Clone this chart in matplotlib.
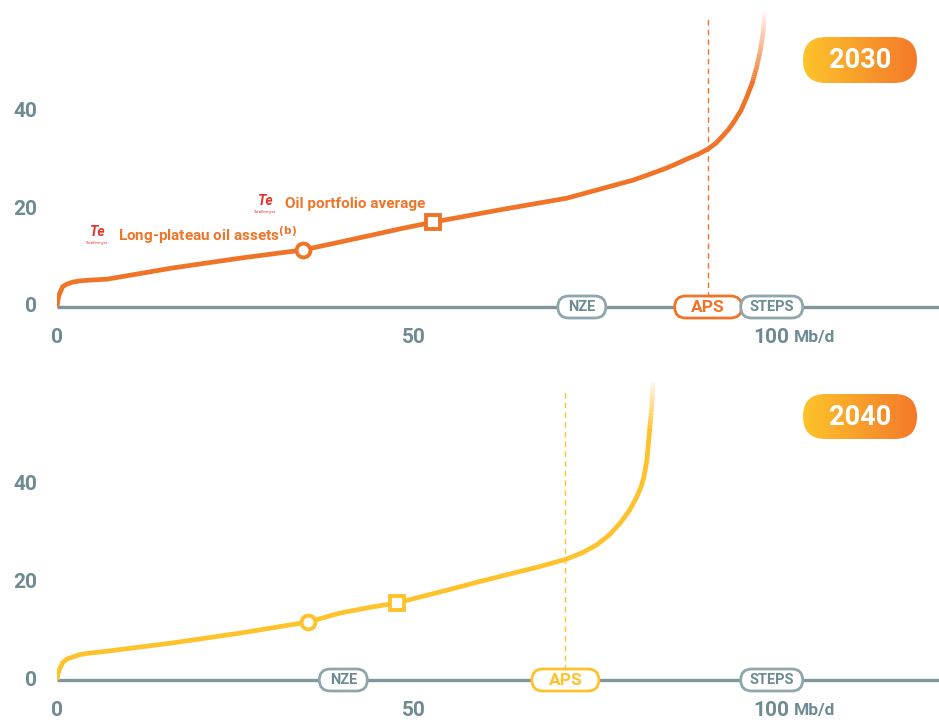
import numpy as np
import matplotlib
matplotlib.use("Agg")
import matplotlib.pyplot as plt
from matplotlib.collections import LineCollection
from matplotlib.patches import FancyBboxPatch
from matplotlib.colors import to_rgba, LinearSegmentedColormap

plt.rcParams['font.family'] = ['Roboto', 'DejaVu Sans']

# ---- data ----
years = ["2030", "2040"]

x_2030 = [0, 0.1, 0.3, 0.8, 1.4, 2.2, 3.2, 4.5, 7.0, 16.2, 25.6, 34.5, 39.6, 44.0, 48.0,
          52.7, 62.0, 71.4, 80.7, 83.0, 85.4, 87.0, 88.5, 89.8, 91.2, 92.3, 93.2, 94.0,
          94.7, 95.8, 96.6, 97.4, 98.0, 98.5, 98.9, 99.1]
y_2030 = [0, 1.2, 2.5, 4.2, 4.7, 5.1, 5.35, 5.5, 5.7, 8.0, 10.0, 11.7, 13.3, 14.7, 16.0,
          17.4, 19.9, 22.3, 26.0, 27.2, 28.5, 29.5, 30.5, 31.3, 32.4, 33.6, 35.0, 36.3,
          37.7, 40.3, 43.0, 46.0, 49.2, 52.5, 56.1, 60.5]

x_2040 = [0, 0.1, 0.3, 0.8, 1.4, 2.2, 3.2, 4.5, 7.0, 16.2, 25.6, 35.2, 39.6, 43.5, 47.6,
          54.6, 59.0, 63.9, 67.5, 71.4, 73.6, 75.6, 77.4, 78.9, 80.2, 81.2, 81.8, 82.2,
          82.6, 83.0, 83.3, 83.5]
y_2040 = [0, 1.0, 2.0, 3.6, 4.3, 4.7, 5.2, 5.5, 5.9, 7.6, 9.6, 11.9, 13.7, 14.8, 15.8,
          18.4, 20.1, 21.9, 23.2, 24.8, 26.1, 27.7, 29.8, 32.2, 34.8, 37.5, 39.6, 41.6,
          44.8, 51.2, 56.0, 61.5]

# long-plateau assets (circle) and portfolio average (square)
plateau_pt = {"2030": (34.5, 11.7), "2040": (35.2, 11.9)}
average_pt = {"2030": (52.7, 17.4), "2040": (47.6, 15.8)}

scenarios = ["NZE", "APS", "STEPS"]
scenario_x = {"2030": [73.5, 91.2, 100.1], "2040": [40.1, 71.2, 100.1]}

yticks = [0, 20, 40]
xticks = [0, 50, 100]

# ---- style ----
ORANGE = "#F07427"
YELLOW = "#FDC22C"
GREY = "#6E8B92"
GREY_LINE = "#7F979C"
GREY_PILL = "#8FA6AB"
line_colors = {"2030": ORANGE, "2040": YELLOW}

W, H = 939, 720
fig = plt.figure(figsize=(W / 100, H / 100), dpi=100)

px_x = 7.14   # pixels per Mb/d
px_y = 4.88   # pixels per $/b
x0_px = 57
ytop = 61
panel_base = {"2030": 307, "2040": 680}


def faded_line(ax, xs, ys, color, fade_from):
    xs = np.asarray(xs)
    ys = np.asarray(ys)
    k = int(np.searchsorted(ys, fade_from))
    # solid part
    ax.plot(xs[:k + 1], ys[:k + 1], color=color, lw=3.4, solid_joinstyle='round',
            solid_capstyle='round', zorder=3)
    # fading part, each straight piece split so the fade looks continuous
    top = ys.max()
    segs, cols = [], []
    for i in range(k, len(xs) - 1):
        t = np.linspace(0, 1, 9)
        px = xs[i] + (xs[i + 1] - xs[i]) * t
        py = ys[i] + (ys[i + 1] - ys[i]) * t
        for j in range(len(t) - 1):
            segs.append([(px[j], py[j]), (px[j + 1], py[j + 1])])
            v = (py[j] + py[j + 1]) / 2
            a = 1.0 - 0.95 * max(v - ys[k], 0) / (top - ys[k])
            cols.append(to_rgba(color, a))
    lc = LineCollection(segs, colors=cols, linewidths=3.4, capstyle='butt',
                        joinstyle='miter', zorder=3, antialiaseds=True)
    ax.add_collection(lc)


def logo(ax, x, y):
    ax.text(x, y + 0.4, "Te", color="#E2322B", fontsize=10, fontweight='bold',
            fontstyle='italic', ha='center', va='center', zorder=5)
    ax.text(x, y - 1.9, "TotalEnergies", color="#E2322B", fontsize=2.6,
            ha='center', va='center', zorder=5)


def pill(ax, x, label, color, textcolor, width_px, fs):
    h_px = 22
    w = width_px / px_x
    h = h_px / px_y
    r = h_px / 2 / px_x
    p = FancyBboxPatch((x - w / 2, -h / 2), w, h,
                       boxstyle=f"round,pad=0,rounding_size={r}",
                       mutation_aspect=px_x / px_y,
                       fc="white", ec=color, lw=2, zorder=4, clip_on=False)
    ax.add_patch(p)
    ax.text(x, -0.1, label, ha='center', va='center', color=textcolor,
            fontsize=fs, fontweight='bold', zorder=5, clip_on=False)


axes = {}
for yr in years:
    base = panel_base[yr]
    ax = fig.add_axes([x0_px / W, (H - base) / H, (W - x0_px) / W, ytop * px_y / H])
    ax.set_xlim(0, (W - x0_px) / px_x)
    ax.set_ylim(0, ytop)
    ax.axis('off')
    axes[yr] = ax

    col = line_colors[yr]
    xs = x_2030 if yr == "2030" else x_2040
    ys = y_2030 if yr == "2030" else y_2040

    # baseline axis
    ax.plot([0, ax.get_xlim()[1]], [0, 0], color=GREY_LINE, lw=2.4, zorder=2,
            clip_on=False, solid_capstyle='butt')

    # APS dashed marker
    aps_x = scenario_x[yr][1]
    ax.plot([aps_x, aps_x], [0, 59], color=col, lw=1, ls=(0, (4, 3)), zorder=1)

    faded_line(ax, xs, ys, col, 46)

    cx, cy = plateau_pt[yr]
    ax.plot(cx, cy, 'o', ms=10, mfc='white', mec=col, mew=2.8, zorder=6)
    sx, sy = average_pt[yr]
    ax.plot(sx, sy, 's', ms=10, mfc='white', mec=col, mew=2.8, zorder=6)

    for name, sxp in zip(scenarios, scenario_x[yr]):
        if name == "APS":
            pill(ax, sxp, name, col, col, 67, 12.5)
        elif name == "NZE":
            pill(ax, sxp, name, GREY_PILL, GREY, 48, 10.5)
        else:
            pill(ax, sxp, name, GREY_PILL, GREY, 62, 10.5)

    for t in yticks:
        ax.text(-2.8, t, str(t), ha='right', va='center', color=GREY,
                fontsize=15, fontweight='bold', clip_on=False)
    for t in xticks:
        ax.text(t, -6.3, str(t), ha='center', va='center', color=GREY,
                fontsize=15, fontweight='bold', clip_on=False)
    ax.text(103.2, -6.3, "Mb/d", ha='left', va='center', color=GREY,
            fontsize=12.5, fontweight='bold', clip_on=False)

# annotations on the 2030 panel
ax = axes["2030"]
logo(ax, 5.6, 15.0)
ax.text(8.5, 14.8, "Long-plateau oil assets$^{\\mathbf{(b)}}$", color=ORANGE,
        fontsize=11, fontweight='bold', ha='left', va='center', zorder=5)
logo(ax, 29.1, 21.3)
ax.text(31.9, 21.1, "Oil portfolio average", color=ORANGE, fontsize=11,
        fontweight='bold', ha='left', va='center', zorder=5)

# year badges with gradient
ov = fig.add_axes([0, 0, 1, 1])
ov.axis('off')
cmap = LinearSegmentedColormap.from_list("badge", ["#FDC42A", "#F4792B"])
grad = np.linspace(0, 1, 256).reshape(1, -1)
for yr, (top_px, bot_px) in zip(years, [(37, 83), (394, 439)]):
    left, right = 803, 917
    hh = bot_px - top_px
    r = hh / 2
    patch = FancyBboxPatch((left, top_px), right - left, hh,
                           boxstyle=f"round,pad=0,rounding_size={r}",
                           fc='none', ec='none')
    ov.add_patch(patch)
    im = ov.imshow(grad, cmap=cmap, extent=[left, right, bot_px, top_px],
                   aspect='auto', zorder=1)
    im.set_clip_path(patch)
    ov.text((left + right) / 2, (top_px + bot_px) / 2 + 1, yr, color='white',
            fontsize=19.5, fontweight='bold', ha='center', va='center', zorder=2)
ov.set_xlim(0, W)
ov.set_ylim(H, 0)

fig.savefig("out.png", dpi=100)
